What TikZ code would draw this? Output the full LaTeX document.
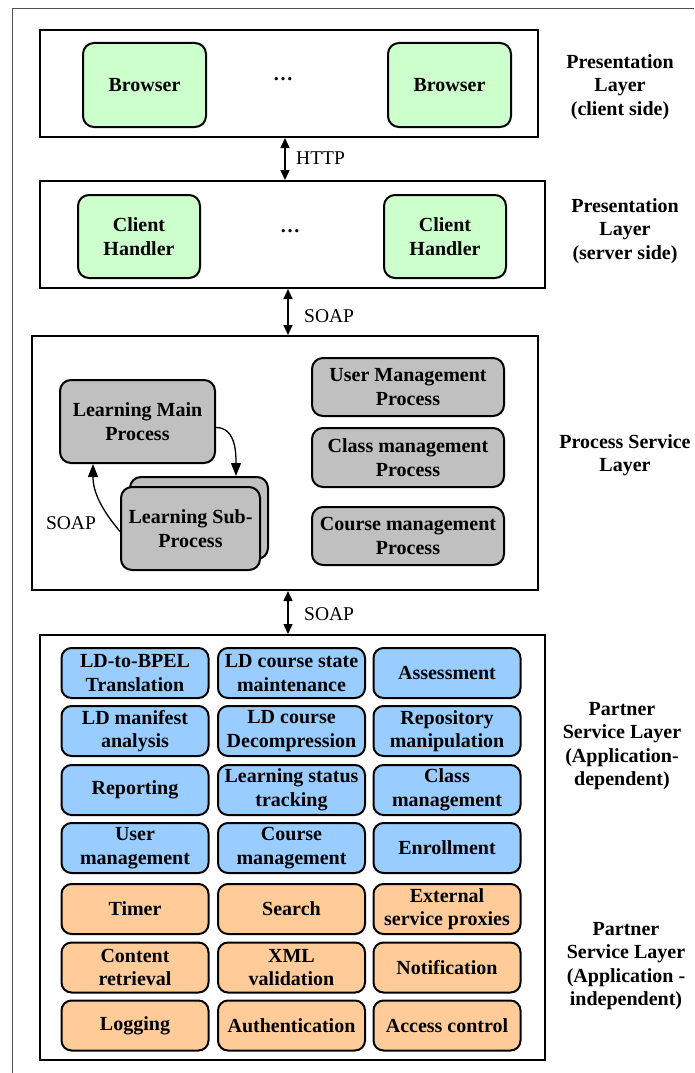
\documentclass[tikz,border=0pt]{standalone}
\usepackage{fontspec}
\setmainfont{Liberation Serif}
\usetikzlibrary{arrows.meta}
\definecolor{clientgreen}{HTML}{CCFFCC}
\definecolor{procgray}{HTML}{C0C0C0}
\definecolor{appblue}{HTML}{99CCFF}
\definecolor{infraorange}{HTML}{FFCC99}
\definecolor{framegray}{HTML}{505050}
\tikzset{
  txt/.style={font=\fontsize{20}{23.5}\selectfont\bfseries, align=center, inner sep=0pt},
  layerbox/.style={draw, line width=2pt, rectangle, inner sep=0pt},
  roundbox/.style={txt, draw, line width=2pt, rounded corners=11pt},
  greenbox/.style={roundbox, fill=clientgreen, minimum width=122pt, minimum height=83pt},
  graybox/.style={roundbox, fill=procgray},
  bluebox/.style={roundbox, fill=appblue, minimum width=147pt, minimum height=50pt, rounded corners=10pt},
  orangebox/.style={roundbox, fill=infraorange, minimum width=147pt, minimum height=50pt, rounded corners=10pt},
  layerlabel/.style={txt},
  protolabel/.style={font=\fontsize{19.5}{23}\selectfont, inner sep=0pt},
  dots/.style={font=\fontsize{20}{23}\selectfont\bfseries, inner sep=0pt},
  linkarrow/.style={line width=1.5pt, {Triangle[length=10pt,width=9pt]}-{Triangle[length=10pt,width=9pt]}},
  callarrow/.style={line width=1.3pt, -{Triangle[length=13pt,width=10pt]}}
}
\begin{document}
\begin{tikzpicture}[x=1pt, y=-1pt]
\useasboundingbox (0,0) rectangle (694,1073);
% open outer frame
\draw[framegray, line width=1pt] (694,9) -- (12,9) -- (12,1073);

% ---------- layer frames ----------
\node[layerbox, minimum width=498pt, minimum height=107pt] (L1) at (289,83.5) {};
\node[layerbox, minimum width=505pt, minimum height=107pt] (L2) at (292.5,234.5) {};
\node[layerbox, minimum width=506pt, minimum height=254pt] (L3) at (285,463) {};
\node[layerbox, minimum width=505pt, minimum height=425pt] (L4) at (292.5,847.5) {};

% ---------- presentation layer (client side) ----------
\node[greenbox, minimum width=123pt, minimum height=84pt] (br1) at (144.5,85) {Browser};
\node[greenbox, minimum width=123pt, minimum height=84pt] (br2) at (449.5,85) {Browser};
\node[dots] (dots1) at (283,79) {\dots};

% ---------- presentation layer (server side) ----------
\node[greenbox] (ch1) at (139,236.5) {Client\\Handler};
\node[greenbox] (ch2) at (445,236.5) {Client\\Handler};
\node[dots] (dots2) at (290,231) {\dots};

% ---------- process service layer ----------
\node[graybox, minimum width=155pt, minimum height=83pt] (lmp) at (137.5,421.5) {Learning Main\\Process};
\node[graybox, minimum width=138pt, minimum height=82pt] (subback) at (199,518) {};
\node[graybox, minimum width=139pt, minimum height=83pt] (subfront) at (190.5,528.5) {Learning Sub-\\Process};
\node[graybox, minimum width=192pt, minimum height=58pt] (ump) at (408,387) {User Management\\Process};
\node[graybox, minimum width=192pt, minimum height=59pt] (clmp) at (408,457.5) {Class management\\Process};
\node[graybox, minimum width=192pt, minimum height=58pt] (comp) at (408,536) {Course management\\Process};

\draw[callarrow] ([yshift=-6pt]lmp.east) to[out=0, in=90] ([xshift=37pt]subback.north);
\draw[callarrow] ([yshift=-3pt]subfront.west) to[out=130, in=-90] ([xshift=-44.5pt]lmp.south);
\node[protolabel] (soapsub) at (71,523) {SOAP};

% ---------- partner service layer ----------
\node[bluebox] (p11) at (135,673) {LD-to-BPEL\\Translation};
\node[bluebox] (p12) at (291.5,673) {LD course state\\maintenance};
\node[bluebox] (p13) at (447,673) {Assessment};
\node[bluebox] (p21) at (135,731) {LD manifest\\analysis};
\node[bluebox] (p22) at (291.5,731) {LD course\\Decompression};
\node[bluebox] (p23) at (447,731) {Repository\\manipulation};
\node[bluebox] (p31) at (135,790) {Reporting};
\node[bluebox] (p32) at (291.5,790) {Learning status\\tracking};
\node[bluebox] (p33) at (447,790) {Class\\management};
\node[bluebox] (p41) at (135,848) {User\\management};
\node[bluebox] (p42) at (291.5,848) {Course\\management};
\node[bluebox] (p43) at (447,848) {Enrollment};

\node[orangebox] (q11) at (135,909) {Timer};
\node[orangebox] (q12) at (291.5,909) {Search};
\node[orangebox] (q13) at (447,909) {External\\service proxies};
\node[orangebox] (q21) at (135,967.5) {Content\\retrieval};
\node[orangebox] (q22) at (291.5,967.5) {XML\\validation};
\node[orangebox] (q23) at (447,967.5) {Notification};
\node[orangebox] (q31) at (135,1025.5) {Logging};
\node[orangebox] (q32) at (291.5,1025.5) {Authentication};
\node[orangebox] (q33) at (447,1025.5) {Access control};

% ---------- links between layers ----------
\draw[linkarrow] (L1.south -| 285,0) -- (L2.north -| 285,0);
\node[protolabel, anchor=west] (http) at (296,158) {HTTP};
\draw[linkarrow] (L2.south -| 288,0) -- (L3.north -| 288,0);
\node[protolabel, anchor=west] (soap1) at (304,316) {SOAP};
\draw[linkarrow] (L3.south -| 288,0) -- (L4.north -| 288,0);
\node[protolabel, anchor=west] (soap2) at (304,614) {SOAP};

% ---------- layer names ----------
\node[layerlabel] (n1) at (620,87) {Presentation\\Layer\\(client side)};
\node[layerlabel] (n2) at (625,231) {Presentation\\Layer\\(server side)};
\node[layerlabel] (n3) at (625,455) {Process Service\\Layer};
\node[layerlabel] (n4) at (622,746) {Partner\\Service Layer\\(Application-\\dependent)};
\node[layerlabel] (n5) at (626,966) {Partner\\Service Layer\\(Application -\\independent)};
\end{tikzpicture}
\end{document}
